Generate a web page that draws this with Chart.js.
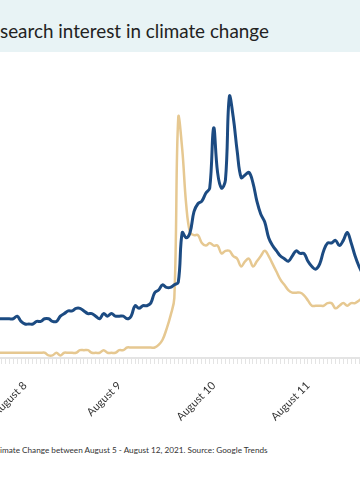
<!DOCTYPE html>
<html lang="en">
<head>
<meta charset="UTF-8">
<title>Search interest in climate change</title>
<script src="https://cdn.jsdelivr.net/npm/chart.js"></script>
<style>
  body { margin: 0; background: #fff; width: 360px; height: 500px; overflow: hidden; position: relative; font-family: Lato, sans-serif; }
  .band { position: absolute; left: 0; top: 0; width: 360px; height: 52px; background: #e8f3f5; }
  #title { position: absolute; left: 0; top: 22px; font-size: 19px; line-height: 1; color: #222; white-space: nowrap; }
  #note { position: absolute; left: 0; top: 446px; font-size: 11px; line-height: 1; color: #333; white-space: nowrap; }
  canvas { position: absolute; left: 0; top: 0; }
</style>
</head>
<body>
<div class="band"></div>
<div id="title">search interest in climate change</div>
<div id="note">imate Change between August 5 - August 12, 2021. Source: Google Trends</div>
<canvas id="trendChart" width="360" height="500"></canvas>

<script>
// hours counted from August 8, 00:00
const hours = [];
for (let h = -7; h <= 86; h++) hours.push(h);

const dayHours = [0, 24, 48, 72];
const dayLabels = ['August 8', 'August 9', 'August 10', 'August 11'];

const climateChange = [
  15, 15, 15, 15, 15, 16, 14,
  13, 13, 13, 14, 14, 15, 15, 14, 14, 16, 17, 18, 18, 19, 19, 18, 17, 17, 16, 15, 17, 16, 17, 16,
  16, 16, 15, 16, 20, 19, 20, 20, 21, 25, 26, 28, 27, 27, 28, 29, 48, 46, 48, 56, 59, 60, 63, 65,
  88, 71, 65, 68, 100, 92, 79, 69, 70, 71, 67, 60, 55, 52, 46, 43, 41, 39, 38, 37, 39, 41, 40, 40,
  37, 35, 34, 36, 41, 44, 44, 45, 43, 45, 48, 44, 39, 35, 32
];

const climateCrisis = [
  2, 2, 2, 2, 2, 2, 2,
  2, 2, 2, 2, 2, 2, 1, 1, 2, 1, 2, 2, 2, 2, 3, 3, 3, 2, 2, 2, 3, 2, 2, 2,
  3, 3, 4, 4, 4, 4, 4, 4, 4, 4, 5, 7, 11, 16, 23, 92, 80, 59, 48, 47, 47, 44, 43, 44,
  43, 43, 40, 41, 41, 39, 38, 35, 37, 38, 35, 37, 39, 41, 39, 36, 33, 30, 28, 26, 25, 25, 25, 24,
  22, 20, 20, 20, 20, 21, 21, 19, 20, 21, 20, 21, 21, 22, 23
];

// fit the text widths to the picture
function fitWidth(el, target) {
  const w = el.getBoundingClientRect().width;
  el.style.fontSize = (parseFloat(getComputedStyle(el).fontSize) * target / w) + 'px';
}
fitWidth(document.getElementById('title'), 269);
fitWidth(document.getElementById('note'), 268);

const pxPerHour = 3.93;
const xMin = -25 / pxPerHour;
const xMax = xMin + 360 / pxPerHour;

new Chart(document.getElementById('trendChart'), {
  type: 'line',
  data: {
    datasets: [
      {
        label: 'Climate change',
        data: hours.map((h, i) => ({ x: h, y: climateChange[i] })),
        borderColor: '#1c4b82',
        borderWidth: 3,
        pointRadius: 0,
        tension: 0.4,
        borderCapStyle: 'round',
        borderJoinStyle: 'round',
        fill: false,
      },
      {
        label: 'Climate crisis',
        data: hours.map((h, i) => ({ x: h, y: climateCrisis[i] })),
        borderColor: '#e6c891',
        borderWidth: 2.5,
        pointRadius: 0,
        tension: 0.4,
        borderCapStyle: 'round',
        borderJoinStyle: 'round',
        fill: false,
      },
    ]
  },
  options: {
    responsive: false,
    animation: false,
    events: [],
    layout: { padding: { top: 60, left: 0, right: 0, bottom: 0 } },
    plugins: { legend: { display: false }, tooltip: { enabled: false } },
    scales: {
      x: {
        type: 'linear',
        min: xMin,
        max: xMax,
        afterBuildTicks: s => {
          s.ticks = hours.filter(h => h >= s.min && h <= s.max).map(h => ({ value: h }));
        },
        afterFit: s => {
          s.height = 142;
          s.paddingLeft = 0;
          s.paddingRight = 0;
        },
        grid: { drawOnChartArea: false, tickLength: 6, color: '#e4e4e4', lineWidth: 1 },
        border: { color: '#e4e4e4', width: 2 },
        ticks: {
          autoSkip: false,
          minRotation: 45,
          maxRotation: 45,
          padding: 15,
          color: '#333',
          font: { family: 'Lato', size: 11 },
          callback: v => {
            const i = dayHours.indexOf(v);
            return i < 0 ? '' : dayLabels[i];
          }
        }
      },
      y: { display: false, min: 0, max: 114 }
    }
  }
});
</script>
</body>
</html>
